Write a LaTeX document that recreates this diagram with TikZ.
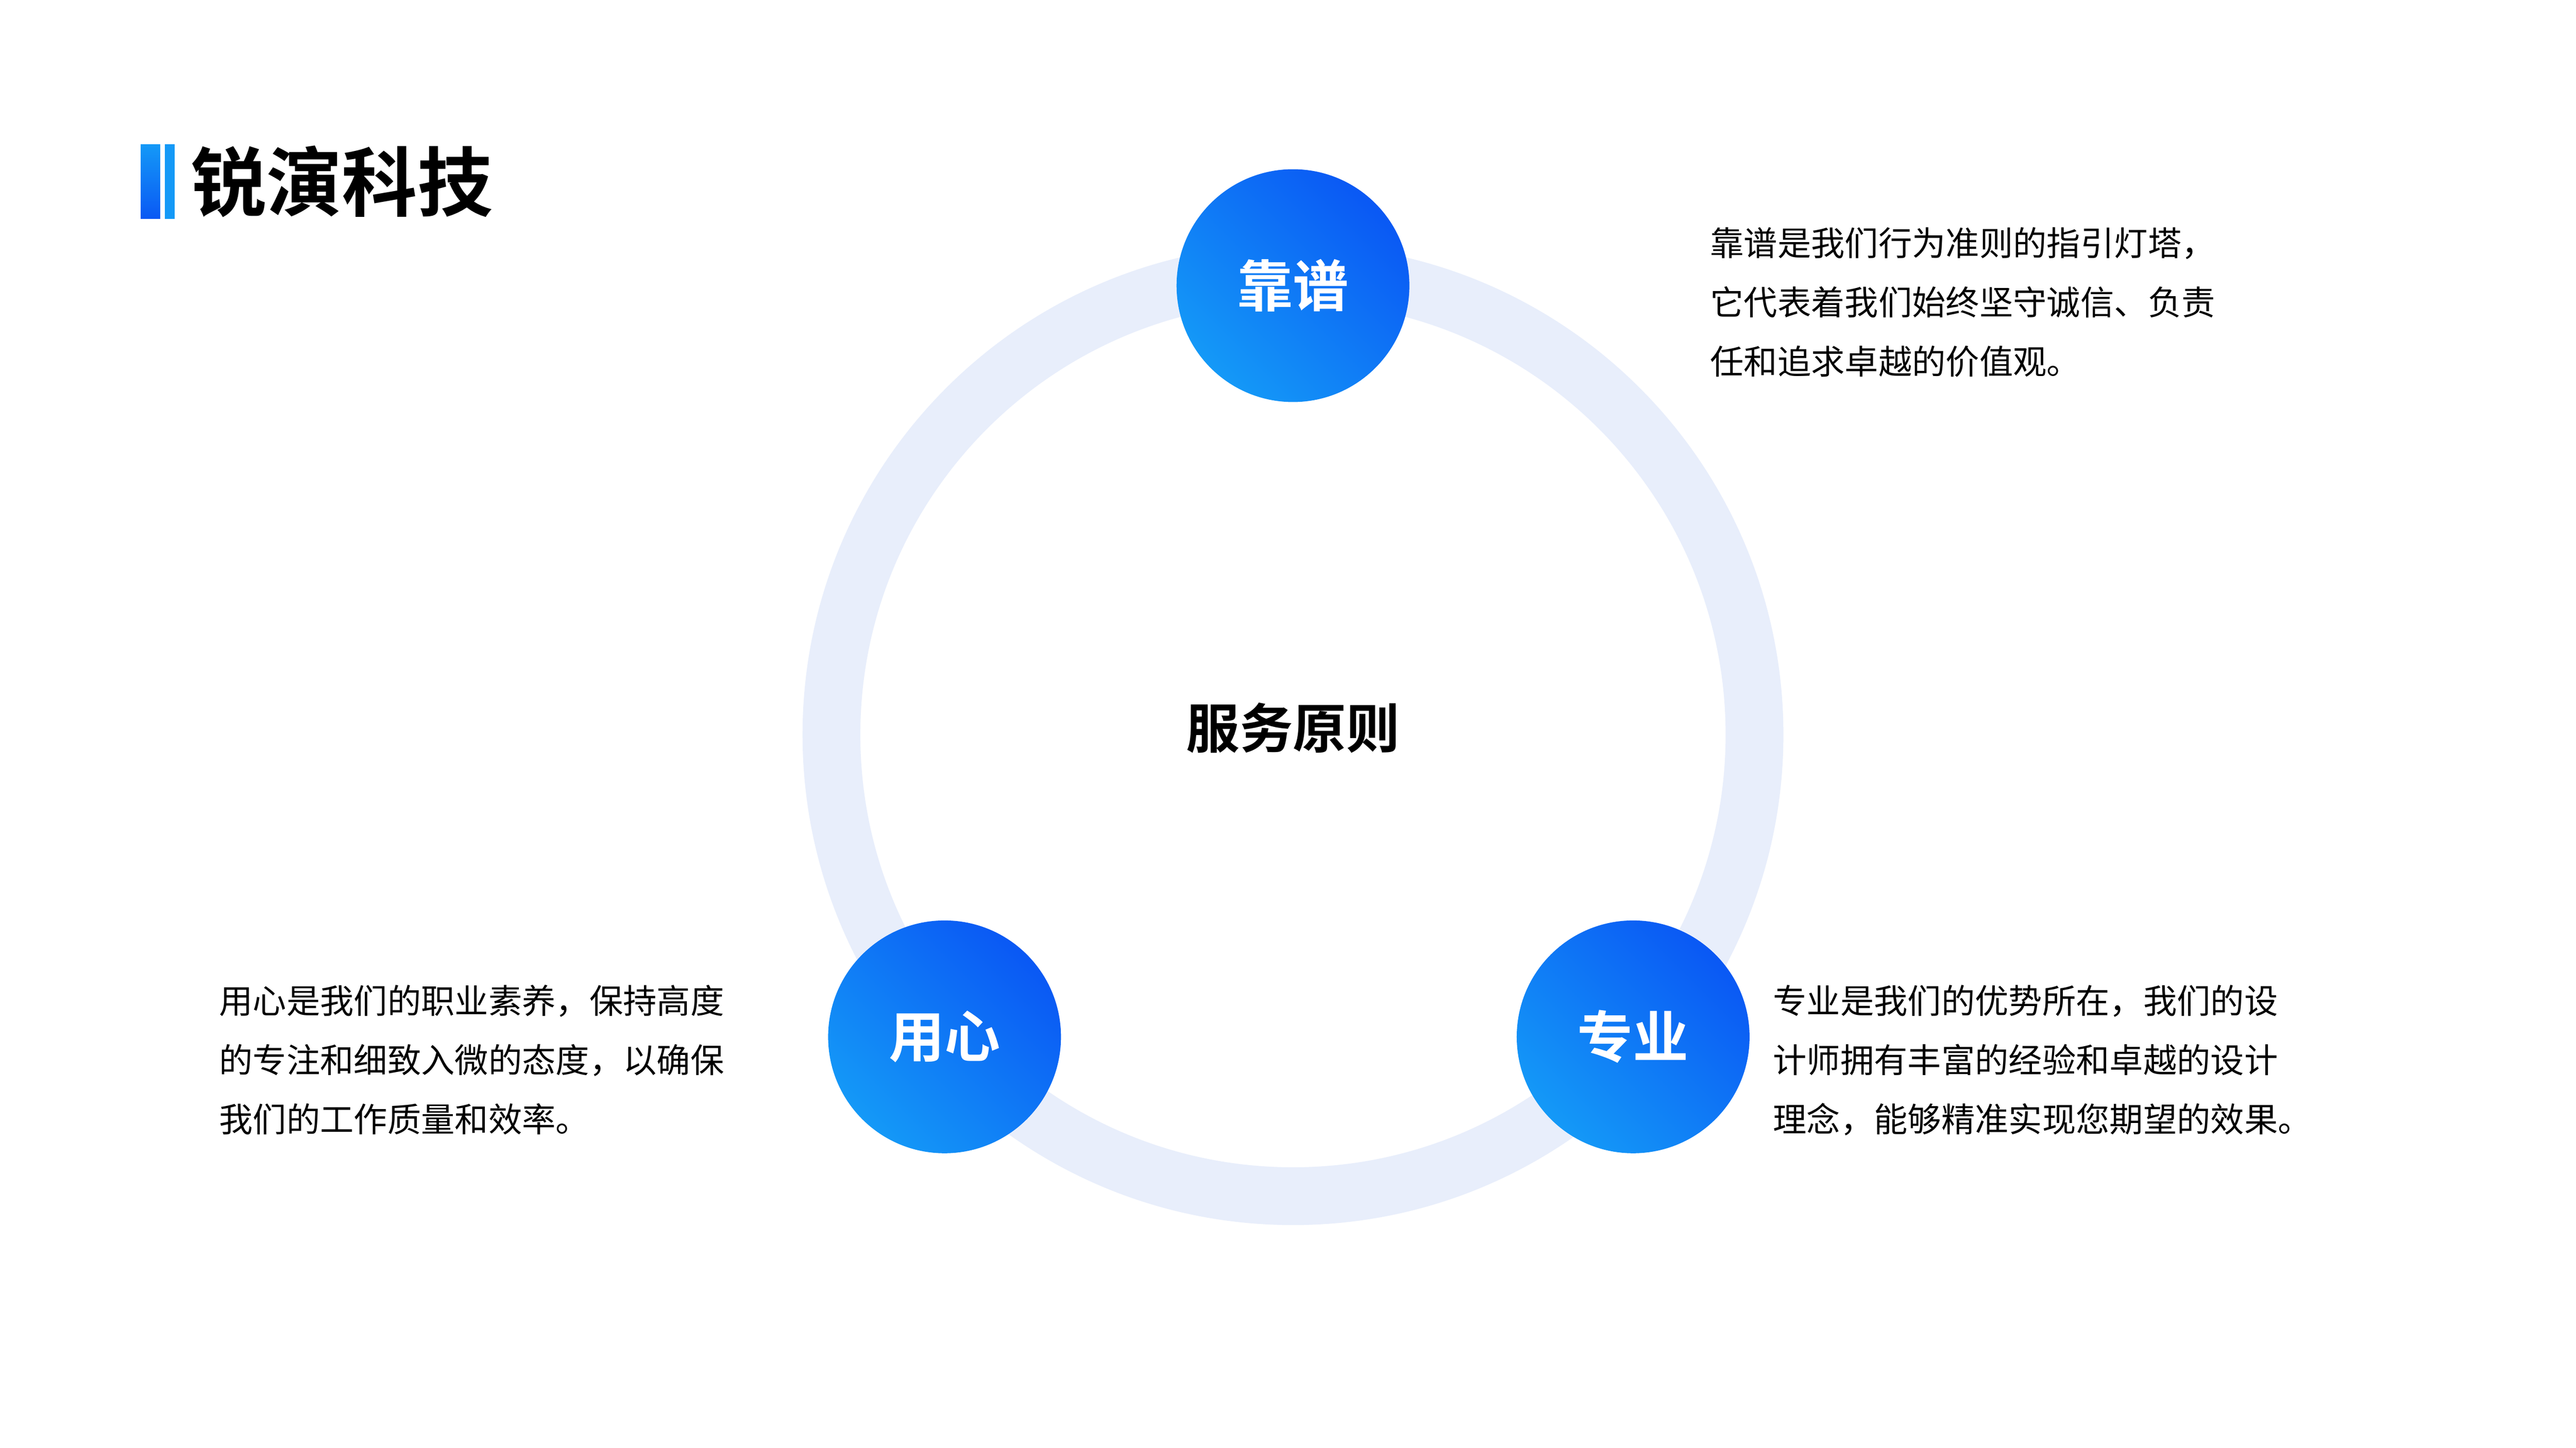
\documentclass[tikz,border=0pt]{standalone}
\usepackage{fontspec}
\setmainfont{Noto Sans CJK SC}
\newfontfamily\cjkbold{Noto Sans CJK SC Bold}
\usetikzlibrary{positioning}
\definecolor{ringblue}{HTML}{E8EEFB}
\definecolor{lightblue}{HTML}{1499F7}
\definecolor{deepblue}{HTML}{0A58F4}
\tikzset{
  badge/.style={circle,minimum size=1.41cm,inner sep=0pt,left color=lightblue,right color=deepblue,shading angle=135,
    text=white,font=\cjkbold\fontsize{9.6pt}{11pt}\selectfont},
  desc/.style={anchor=north west,inner sep=0pt,align=left,font=\fontsize{5.8pt}{10.2pt}\selectfont}
}
\begin{document}
\begin{tikzpicture}
  \useasboundingbox[fill=white] (0,0) rectangle (15.6,8.77);
  % heading
  \shade[top color=lightblue,bottom color=deepblue] (0.852,7.444) rectangle (0.970,7.896);
  \fill[lightblue] (0.998,7.444) rectangle (1.058,7.896);
  \node[anchor=west,inner sep=0pt,font=\cjkbold\fontsize{13pt}{15pt}\selectfont] (title) at (1.15,7.67) {锐演科技};
  % ring
  \coordinate (c) at (7.83,4.32);
  \draw[ringblue,line width=0.35cm] (c) circle (2.795);
  \node[font=\cjkbold\fontsize{9.2pt}{11pt}\selectfont] (center) at (7.83,4.36) {服务原则};
  % badges
  \node[badge] (reliable) at (7.83,7.04) {靠谱};
  \node[badge] (careful) at (5.72,2.49) {用心};
  \node[badge] (pro) at (9.89,2.49) {专业};
  % descriptions
  \node[desc] (tdesc) at (10.35,7.40) {靠谱是我们行为准则的指引灯塔，\\它代表着我们始终坚守诚信、负责\\任和追求卓越的价值观。};
  \node[desc] (ldesc) at (1.32,2.81) {用心是我们的职业素养，保持高度\\的专注和细致入微的态度，以确保\\我们的工作质量和效率。};
  \node[desc] (rdesc) at (10.73,2.81) {专业是我们的优势所在，我们的设\\计师拥有丰富的经验和卓越的设计\\理念，能够精准实现您期望的效果。};
\end{tikzpicture}
\end{document}
